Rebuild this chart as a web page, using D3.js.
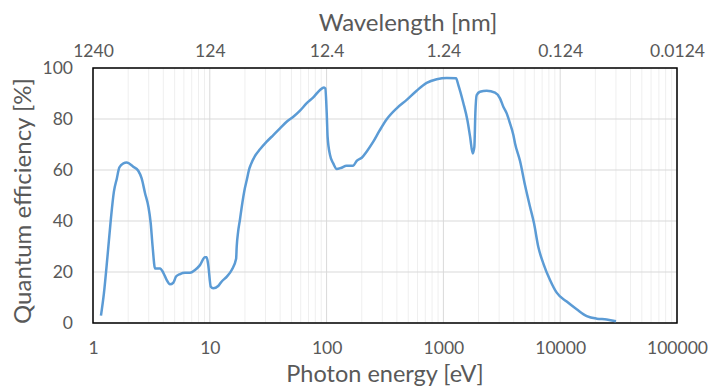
<!DOCTYPE html>
<html>
<head>
<meta charset="utf-8">
<script src="https://cdn.jsdelivr.net/npm/d3@7"></script>
<style>
  body { margin: 0; background: #fff; }
  text { font-family: Lato, "Open Sans", sans-serif; fill: #595959; }
</style>
</head>
<body>
<div id="chart"></div>
<script>
// photon energy (eV) and quantum efficiency (%)
var energy = [1.17, 1.24, 1.33, 1.42, 1.51, 1.6, 1.68, 1.82, 1.94, 2.21, 2.44, 2.61, 2.79, 2.98, 3.12, 3.24, 3.4,
  3.75, 4.0, 4.27, 4.56, 4.87, 5.14, 5.56, 6.13, 6.77, 7.47, 8.24, 9.09, 9.4, 9.7, 10.2, 10.7, 11.8, 12.6, 14.0,
  15.4, 16.8, 17.0, 17.5, 18.1, 18.7, 20.0, 20.7, 21.8, 22.4, 24.4, 26.9, 30.7, 35, 39.9, 45.5, 51.9, 59.2, 67.6,
  76.9, 87.8, 95, 97.5, 100.3, 102, 107, 114, 122, 134, 148, 169, 181, 200, 220, 251, 283, 327, 398, 485, 590,
  719, 877, 1067, 1282, 1343, 1483, 1604, 1692, 1783, 1841, 1877, 1929, 2057, 2348, 2766, 3052, 3258, 3483, 3716,
  3972, 4101, 4530, 5000, 5514, 5968, 6490, 7163, 8180, 9335, 11370, 13840, 16870, 20560, 25010, 30040];
var qe = [2.9, 11.6, 26, 40.4, 51.5, 56.7, 61, 62.6, 62.9, 61.3, 59.7, 56.7, 50.9, 45.6, 39.1, 29.9, 21.4,
  21.4, 19.7, 16.9, 15.2, 15.8, 18.2, 19.2, 19.7, 19.7, 20.8, 22.7, 25.8, 25.8, 22.7, 14.2, 13.6, 14.5, 16.2, 18.2,
  20.8, 25.2, 30, 36, 40.4, 45, 53, 56, 60.5, 62, 65.5, 68.1, 71.1, 73.7, 76.3, 78.9, 80.9, 83.3, 86.2,
  88.5, 91.4, 92.4, 92, 82, 73, 65.9, 62.6, 60.4, 60.9, 61.7, 61.7, 63.6, 64.8, 67.2, 71.1, 75.3, 79.9, 84.2, 87.5, 91.1,
  94.2, 95.6, 96.1, 96, 93.3, 86.2, 79.6, 73.1, 66.5, 69.1, 82.2, 89.4, 90.7, 91.1, 90.3, 88.1, 84.8, 82.2, 78.3,
  73.7, 70.5, 63.5, 54, 45.6, 39.1, 29.9, 23.4, 16.9, 11.9, 8.4, 5.4, 2.7, 1.7, 1.4, 0.7];

var decades = [1, 10, 100, 1000, 10000, 100000];
var wavelengthLabels = ["1240", "124", "12.4", "1.24", "0.124", "0.0124"];
var yTicks = [0, 20, 40, 60, 80, 100];

var svgWidth = 716;
var svgHeight = 389;
var margin = { top: 68, right: 39, bottom: 66, left: 93 };
var width = svgWidth - margin.left - margin.right;
var height = svgHeight - margin.top - margin.bottom;

var svg = d3.select("#chart").append("svg")
  .attr("width", svgWidth)
  .attr("height", svgHeight);

var chartGroup = svg.append("g")
  .attr("transform", `translate(${margin.left}, ${margin.top})`);

var x = d3.scaleLog().domain([1, 100000]).range([0, width]);
var y = d3.scaleLinear().domain([0, 100]).range([height, 0]);

// minor grid (2..9 in every decade)
var minor = [];
decades.slice(0, -1).forEach(function (d) {
  for (var k = 2; k < 10; k++) minor.push(d * k);
});
chartGroup.selectAll("line.minor").data(minor).enter().append("line")
  .attr("x1", (d) => x(d)).attr("x2", (d) => x(d))
  .attr("y1", 0).attr("y2", height)
  .attr("stroke", "#efefef").attr("stroke-width", 1);

// major grid
chartGroup.selectAll("line.vmajor").data(decades).enter().append("line")
  .attr("x1", (d) => x(d)).attr("x2", (d) => x(d))
  .attr("y1", 0).attr("y2", height)
  .attr("stroke", "#d9d9d9").attr("stroke-width", 1);
chartGroup.selectAll("line.hmajor").data(yTicks).enter().append("line")
  .attr("x1", 0).attr("x2", width)
  .attr("y1", (d) => y(d)).attr("y2", (d) => y(d))
  .attr("stroke", "#d9d9d9").attr("stroke-width", 1);

// axes (labels only)
var xAxis = d3.axisBottom(x).tickValues(decades).tickFormat(d3.format("d"))
  .tickSize(0).tickPadding(19);
var topAxis = d3.axisTop(x).tickValues(decades)
  .tickFormat((d, i) => wavelengthLabels[i]).tickSize(0).tickPadding(11);
var yAxis = d3.axisLeft(y).tickValues(yTicks).tickSize(0).tickPadding(20);

function styleAxis(g) {
  g.select(".domain").remove();
  g.selectAll("text").style("font-size", "17.5px").attr("fill", "#595959");
}

chartGroup.append("g").attr("transform", `translate(0, ${height})`).call(xAxis).call(styleAxis);
chartGroup.append("g").call(topAxis).call(styleAxis);
chartGroup.append("g").call(yAxis).call(styleAxis);

// frame
chartGroup.append("rect")
  .attr("width", width).attr("height", height)
  .attr("fill", "none").attr("stroke", "#000").attr("stroke-width", 1.5);

// curve
var pts = energy.map((e, i) => [e, qe[i]]);
var line = d3.line().x((d) => x(d[0])).y((d) => y(d[1])).curve(d3.curveMonotoneX);
chartGroup.append("path")
  .datum(pts)
  .attr("d", line)
  .attr("fill", "none")
  .attr("stroke", "#5B9BD5")
  .attr("stroke-width", 2.5)
  .attr("stroke-linejoin", "round");

// titles
svg.append("text")
  .attr("x", 385).attr("y", 382)
  .style("text-anchor", "middle").style("font-size", "23.5px")
  .text("Photon energy [eV]");
svg.append("text")
  .attr("x", 408).attr("y", 31)
  .style("text-anchor", "middle").style("font-size", "24px")
  .text("Wavelength [nm]");
svg.append("text")
  .attr("transform", "rotate(-90)")
  .attr("x", -201).attr("y", 31)
  .style("text-anchor", "middle").style("font-size", "24px")
  .text("Quantum efficiency [%]");
</script>
</body>
</html>
